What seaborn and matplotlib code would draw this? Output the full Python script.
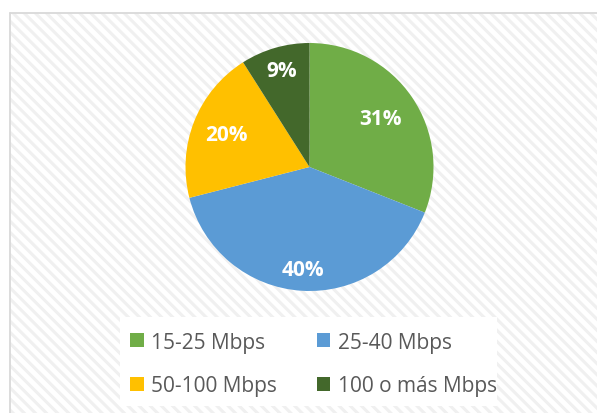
import matplotlib
matplotlib.use("Agg")
import matplotlib.pyplot as plt
import seaborn as sns
from matplotlib.patches import Rectangle, Patch
from matplotlib.lines import Line2D
import numpy as np

# datos del gráfico
categorias = ["15-25 Mbps", "25-40 Mbps", "50-100 Mbps", "100 o más Mbps"]
porcentajes = [31, 40, 20, 9]
colores_hex = ["#70AD47", "#5B9BD5", "#FFC000", "#43682B"]

sns.set_theme(style="white")
plt.rcParams['font.family'] = ['Open Sans', 'DejaVu Sans']
plt.rcParams['hatch.linewidth'] = 2.2

paleta = sns.color_palette(colores_hex)

fig = plt.figure(figsize=(5.97, 4.14), dpi=100)
fig.patch.set_facecolor("white")

# fondo rayado dentro del marco
W, H = 597, 414
fx0, fy0 = 10 / W, 0.0
fondo = Rectangle((fx0, fy0), 1.0 - fx0, 1 - 13.5 / H, transform=fig.transFigure,
                  facecolor="white", edgecolor="#f0f0f0", hatch="\\\\\\", linewidth=0, zorder=0)
fig.patches.append(fondo)
fig.lines.append(Line2D([fx0, fx0], [0, 1 - 13.5 / H], transform=fig.transFigure,
                        color="#d9d9d9", linewidth=1.3, zorder=1))
fig.lines.append(Line2D([fx0, 1], [1 - 13.5 / H, 1 - 13.5 / H], transform=fig.transFigure,
                        color="#d9d9d9", linewidth=1.3, zorder=1))

# caja blanca de la leyenda
caja = Rectangle((120 / W, 1 - 407 / H), (497 - 120) / W, (407 - 318) / H,
                 transform=fig.transFigure, facecolor="white", edgecolor="none", zorder=1)
fig.patches.append(caja)

# pastel
cx, cy, r = 309.5, 168, 124
ax = fig.add_axes([(cx - r) / W, 1 - (cy + r) / H, 2 * r / W, 2 * r / H])
ax.set_zorder(3)
ax.set_facecolor("none")
wedges, texts, autotexts = ax.pie(porcentajes, colors=paleta, startangle=90, counterclock=False,
                                  autopct=lambda p: f"{p:.0f}%", pctdistance=0.75,
                                  wedgeprops=dict(linewidth=0),
                                  textprops=dict(color="white", fontsize=15, fontweight="bold"))
ax.set_xlim(-1, 1)
ax.set_ylim(-1, 1)
ax.set_aspect("equal")
ax.axis("off")

# distancia radial de cada etiqueta (como en el original)
distancias = [0.69, 0.83, 0.72, 0.81]
for w, t, d in zip(wedges, autotexts, distancias):
    ang = np.deg2rad((w.theta1 + w.theta2) / 2)
    t.set_position((d * np.cos(ang), d * np.sin(ang)))

# la leyenda se llena por columnas: reordenar para que quede por filas
orden = [0, 2, 1, 3]
handles = [Patch(facecolor=paleta[i], edgecolor="none") for i in orden]
etiquetas = [categorias[i] for i in orden]
leg = fig.legend(handles, etiquetas, ncol=2, loc="center left",
                 bbox_to_anchor=(120 / W, 1 - 365 / H), frameon=False,
                 fontsize=15, handlelength=0.63, handleheight=0.63,
                 handletextpad=0.35, columnspacing=1.95, labelspacing=1.1, borderpad=0)
for t in leg.get_texts():
    t.set_color("#595959")
leg.set_zorder(4)

fig.savefig("out.png", dpi=100)
